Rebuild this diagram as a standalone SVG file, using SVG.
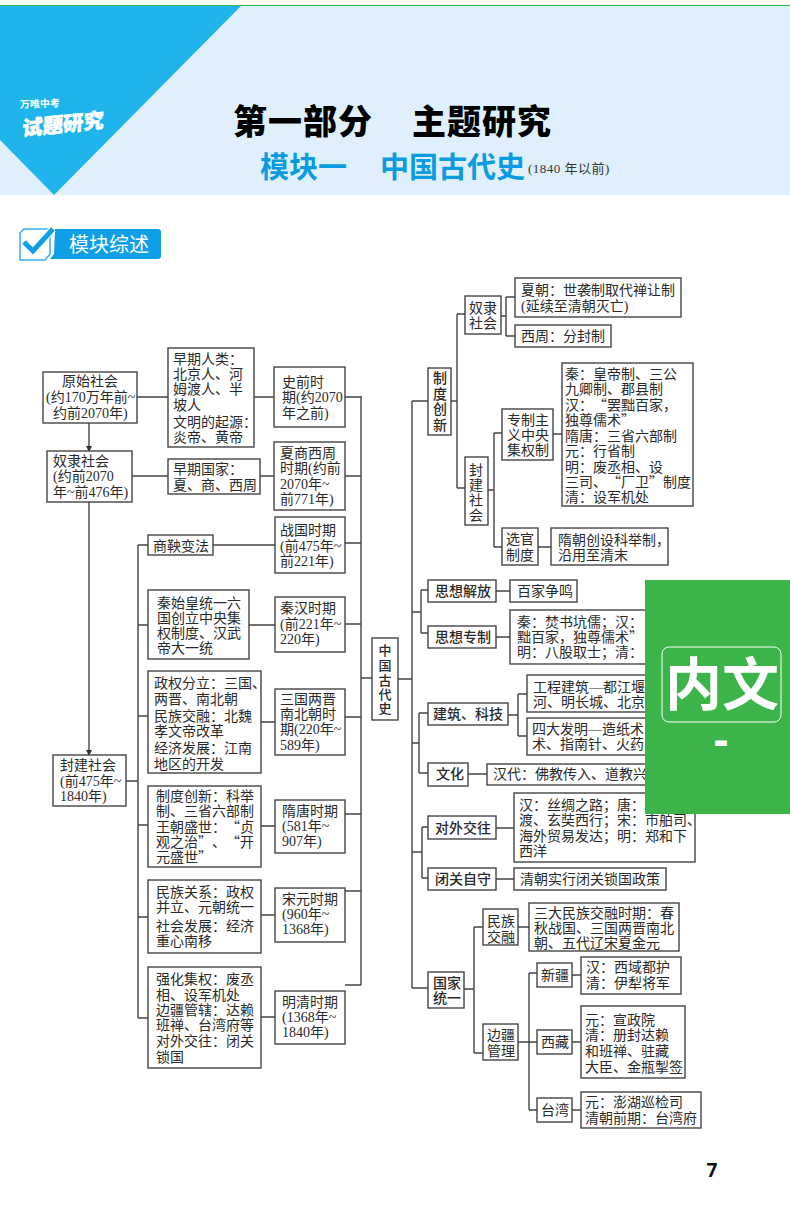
<svg xmlns="http://www.w3.org/2000/svg" width="790" height="1210" viewBox="0 0 790 1210" lang="zh-CN">
<style>
text{font-family:"Liberation Serif","Noto Sans CJK SC",serif;font-size:14px;fill:#2a2a2a;text-spacing-trim:space-all}
.q{font-family:"Noto Sans CJK SC","Liberation Serif",sans-serif}
.h{font-family:"Noto Sans CJK SC",sans-serif;font-weight:500}
.v{font-size:13px}
.b{fill:#fff;stroke:#444;stroke-width:1.4}
#connectors path{fill:none;stroke:#444;stroke-width:1.4}
.t{font-family:"Noto Sans CJK SC",sans-serif;font-weight:900;font-size:34px;fill:#000;letter-spacing:1px}
.s{font-family:"Noto Sans CJK SC",sans-serif;font-weight:700;font-size:29px;fill:#0a9be0}
</style>
<defs><marker id="arr" markerWidth="6" markerHeight="6" refX="5" refY="3" orient="auto" markerUnits="userSpaceOnUse"><path d="M0 0L6 3L0 6z" fill="#333"/></marker></defs>
<g id="header">
<rect x="0" y="5" width="790" height="190" fill="#dff0fc"/>
<rect x="0" y="5" width="790" height="1" fill="#3bb54a"/>
<path d="M0 6H241L54 195L0 140z" fill="#1fb5ec"/>
<text x="20" y="108" transform="rotate(-2 20 108)" style="font-family:'Noto Sans CJK SC',sans-serif;font-weight:700;font-size:10px;fill:#fff">万唯中考</text>
<text transform="translate(22 136) rotate(-6) skewX(-8)" style="font-family:'Noto Sans CJK SC',sans-serif;font-weight:900;font-size:20.5px;fill:#fff;stroke:#fff;stroke-width:.5">试题研究</text>
<text class="t" x="233" y="134">第一部分</text>
<text class="t" x="412" y="134">主题研究</text>
<text class="s" x="260" y="178">模块一</text>
<text class="s" x="380" y="178">中国古代史</text>
<text x="528" y="173" style="font-size:13px;letter-spacing:.5px;fill:#333">(1840 年以前)</text>
</g>
<g id="badge">
<path d="M24 229H50V254L45 260H20V233z" fill="#fff" stroke="#38aeea" stroke-width="1.5"/>
<path d="M55 229H158Q161 229 161 232V256Q161 259 158 259H50L54 254z" fill="#0e9fe6"/>
<path d="M24 242L33 251L53 229" fill="none" stroke="#fff" stroke-width="7.5"/>
<path d="M24 242L33 251L53 229" fill="none" stroke="#0e9fe6" stroke-width="5"/>
<text x="69" y="252" style="font-family:'Noto Sans CJK SC',sans-serif;font-size:20px;fill:#fff">模块综述</text>
</g>
<g id="connectors">
<path d="M137 397H168M254 397H274M345 397H361M361 396V985M345 476H361M345 543H361M345 624H361M345 717H361M345 814H361M345 891H361M345 985H361M361 678H372"/>
<path d="M89 423V451" marker-end="url(#arr)"/>
<path d="M89 502V755" marker-end="url(#arr)"/>
<path d="M132 476H168M260 476H274M126 781H138M138 545V1018M138 545H148M138 625H148M138 716H148M138 825H148M138 917H148M138 1018H148M213 545H275M249 625H275M261 722H275M261 826H275M261 915H275M261 1017H275"/>
<path d="M398 679H412M412 401V988M412 401H428M412 988H428M412 612H421M421 590V633M421 590H428M421 633H428M412 743H419M419 713V773M419 713H428M419 773H428M412 852H422M422 827V878M422 827H428M422 878H428"/>
<path d="M451 401H457M457 314V488M457 314H465M457 488H465M501 316H506M506 297V336M506 297H515M506 336H515M488 490H494M494 433V547M494 433H502M494 547H502M553 434H562M538 547H551"/>
<path d="M496 591H510M496 637H510M508 715H518M518 694V736M518 694H527M518 736H527M468 774H487M496 828H514M496 879H514"/>
<path d="M464 989H474M474 927V1053M474 927H483M474 1053H483M518 927H529M518 1042H537M529 973V1110M529 973H537M529 1110H537M572 975H581M572 1042H581M572 1110H581"/>
</g>
<g id="n1"><rect class="b" x="43" y="372" width="94" height="51"/><text><tspan x="62" y="386">原始社会</tspan><tspan x="46" y="402">(约170万年前~</tspan><tspan x="53" y="418">约前2070年)</tspan></text></g>
<g id="n2"><rect class="b" x="168" y="348" width="86" height="99"/><text><tspan x="173" y="364">早期人类：</tspan><tspan x="173" y="379">北京人、河</tspan><tspan x="173" y="394">姆渡人、半</tspan><tspan x="173" y="410">坡人</tspan><tspan x="173" y="427">文明的起源：</tspan><tspan x="173" y="442">炎帝、黄帝</tspan></text></g>
<g id="n3"><rect class="b" x="274" y="367" width="71" height="60"/><text><tspan x="282" y="387">史前时</tspan><tspan x="282" y="402">期(约2070</tspan><tspan x="282" y="418">年之前)</tspan></text></g>
<g id="n4"><rect class="b" x="47" y="451" width="85" height="51"/><text><tspan x="53" y="466">奴隶社会</tspan><tspan x="53" y="481">(约前2070</tspan><tspan x="53" y="497">年~前476年)</tspan></text></g>
<g id="n5"><rect class="b" x="168" y="459" width="92" height="35"/><text><tspan x="173" y="474">早期国家：</tspan><tspan x="173" y="490">夏、商、西周</tspan></text></g>
<g id="n6"><rect class="b" x="274" y="442" width="71" height="68"/><text><tspan x="280" y="458">夏商西周</tspan><tspan x="280" y="473">时期(约前</tspan><tspan x="280" y="489">2070年~</tspan><tspan x="280" y="504">前771年)</tspan></text></g>
<g id="n7"><rect class="b" x="275" y="517" width="70" height="56"/><text><tspan x="280" y="535">战国时期</tspan><tspan x="280" y="551">(前475年~</tspan><tspan x="280" y="566">前221年)</tspan></text></g>
<g id="n8"><rect class="b" x="148" y="535" width="65" height="20"/><text x="153" y="551">商鞅变法</text></g>
<g id="n9"><rect class="b" x="148" y="590" width="101" height="69"/><text><tspan x="157" y="608">秦始皇统一六</tspan><tspan x="157" y="623">国创立中央集</tspan><tspan x="157" y="638">权制度、汉武</tspan><tspan x="157" y="653">帝大一统</tspan></text></g>
<g id="n10"><rect class="b" x="275" y="597" width="70" height="55"/><text><tspan x="280" y="613">秦汉时期</tspan><tspan x="280" y="629">(前221年~</tspan><tspan x="280" y="644">220年)</tspan></text></g>
<g id="n11"><rect class="b" x="148" y="671" width="113" height="102"/><text><tspan x="154" y="688">政权分立：三国、</tspan><tspan x="154" y="704">两晋、南北朝</tspan><tspan x="154" y="721">民族交融：北魏</tspan><tspan x="154" y="736">孝文帝改革</tspan><tspan x="154" y="753">经济发展：江南</tspan><tspan x="154" y="769">地区的开发</tspan></text></g>
<g id="n12"><rect class="b" x="275" y="689" width="70" height="66"/><text><tspan x="280" y="704">三国两晋</tspan><tspan x="280" y="719">南北朝时</tspan><tspan x="280" y="734">期(220年~</tspan><tspan x="280" y="750">589年)</tspan></text></g>
<g id="n13"><rect class="b" x="53" y="755" width="73" height="51"/><text><tspan x="60" y="770">封建社会</tspan><tspan x="60" y="786">(前475年~</tspan><tspan x="60" y="801">1840年)</tspan></text></g>
<g id="n14"><rect class="b" x="148" y="786" width="113" height="81"/><text class="q"><tspan x="156" y="801">制度创新：科举</tspan><tspan x="156" y="816">制、三省六部制</tspan><tspan x="156" y="832">王朝盛世：“贞</tspan><tspan x="156" y="847">观之治”、“开</tspan><tspan x="156" y="862">元盛世”</tspan></text></g>
<g id="n15"><rect class="b" x="275" y="800" width="70" height="53"/><text><tspan x="282" y="816">隋唐时期</tspan><tspan x="282" y="831">(581年~</tspan><tspan x="282" y="846">907年)</tspan></text></g>
<g id="n16"><rect class="b" x="148" y="880" width="113" height="73"/><text><tspan x="156" y="897">民族关系：政权</tspan><tspan x="156" y="912">并立、元朝统一</tspan><tspan x="156" y="931">社会发展：经济</tspan><tspan x="156" y="946">重心南移</tspan></text></g>
<g id="n17"><rect class="b" x="275" y="888" width="70" height="54"/><text><tspan x="282" y="904">宋元时期</tspan><tspan x="282" y="919">(960年~</tspan><tspan x="282" y="934">1368年)</tspan></text></g>
<g id="n18"><rect class="b" x="148" y="967" width="113" height="101"/><text><tspan x="156" y="984">强化集权：废丞</tspan><tspan x="156" y="1000">相、设军机处</tspan><tspan x="156" y="1015">边疆管辖：达赖</tspan><tspan x="156" y="1030">班禅、台湾府等</tspan><tspan x="156" y="1046">对外交往：闭关</tspan><tspan x="156" y="1062">锁国</tspan></text></g>
<g id="n19"><rect class="b" x="275" y="991" width="70" height="53"/><text><tspan x="282" y="1007">明清时期</tspan><tspan x="282" y="1022">(1368年~</tspan><tspan x="282" y="1037">1840年)</tspan></text></g>
<g id="n20"><rect class="b" x="372" y="638" width="26" height="82"/><text class="h v"><tspan x="378.500" y="655">中</tspan><tspan x="378.500" y="670">国</tspan><tspan x="378.500" y="685">古</tspan><tspan x="378.500" y="699">代</tspan><tspan x="378.500" y="713">史</tspan></text></g>
<g id="n21"><rect class="b" x="428" y="368" width="23" height="67"/><text class="h"><tspan x="433" y="383">制</tspan><tspan x="433" y="399">度</tspan><tspan x="433" y="414">创</tspan><tspan x="433" y="430">新</tspan></text></g>
<g id="n22"><rect class="b" x="465" y="296" width="36" height="38"/><text><tspan x="469" y="313">奴隶</tspan><tspan x="469" y="328">社会</tspan></text></g>
<g id="n23"><rect class="b" x="515" y="278" width="166" height="39"/><text><tspan x="521" y="295">夏朝：世袭制取代禅让制</tspan><tspan x="521" y="311">(延续至清朝灭亡)</tspan></text></g>
<g id="n24"><rect class="b" x="515" y="325" width="96" height="22"/><text x="521" y="341">西周：分封制</text></g>
<g id="n25"><rect class="b" x="465" y="457" width="23" height="68"/><text><tspan x="469" y="475">封</tspan><tspan x="469" y="490">建</tspan><tspan x="469" y="505">社</tspan><tspan x="469" y="520">会</tspan></text></g>
<g id="n26"><rect class="b" x="502" y="409" width="51" height="51"/><text><tspan x="507" y="425">专制主</tspan><tspan x="507" y="440">义中央</tspan><tspan x="507" y="455">集权制</tspan></text></g>
<g id="n27"><rect class="b" x="562" y="363" width="131" height="143"/><text class="q"><tspan x="565" y="379">秦：皇帝制、三公</tspan><tspan x="565" y="394">九卿制、郡县制</tspan><tspan x="565" y="410">汉：“罢黜百家，</tspan><tspan x="565" y="425">独尊儒术”</tspan><tspan x="565" y="441">隋唐：三省六部制</tspan><tspan x="565" y="456">元：行省制</tspan><tspan x="565" y="472">明：废丞相、设</tspan><tspan x="565" y="487">三司、“厂卫”制度</tspan><tspan x="565" y="502">清：设军机处</tspan></text></g>
<g id="n28"><rect class="b" x="502" y="528" width="36" height="37"/><text><tspan x="506" y="544">选官</tspan><tspan x="506" y="560">制度</tspan></text></g>
<g id="n29"><rect class="b" x="551" y="528" width="117" height="37"/><text><tspan x="558" y="545">隋朝创设科举制，</tspan><tspan x="558" y="560">沿用至清末</tspan></text></g>
<g id="n30"><rect class="b" x="428" y="580" width="68" height="22"/><text class="h" x="435" y="596">思想解放</text></g>
<g id="n31"><rect class="b" x="510" y="580" width="67" height="22"/><text x="517" y="596">百家争鸣</text></g>
<g id="n32"><rect class="b" x="428" y="626" width="68" height="22"/><text class="h" x="435" y="642">思想专制</text></g>
<g id="n33"><rect class="b" x="510" y="610" width="150" height="54"/><text class="q"><tspan x="517" y="627">秦：焚书坑儒；汉：</tspan><tspan x="517" y="642">黜百家，独尊儒术”</tspan><tspan x="517" y="657">明：八股取士；清：</tspan></text></g>
<g id="n34"><rect class="b" x="428" y="703" width="80" height="22"/><text class="h" x="433" y="719">建筑、科技</text></g>
<g id="n35"><rect class="b" x="527" y="675" width="130" height="37"/><text><tspan x="533" y="692">工程建筑—都江堰</tspan><tspan x="533" y="707">河、明长城、北京</tspan></text></g>
<g id="n36"><rect class="b" x="527" y="718" width="130" height="37"/><text><tspan x="532" y="734">四大发明—造纸术</tspan><tspan x="532" y="749">术、指南针、火药</tspan></text></g>
<g id="n37"><rect class="b" x="428" y="763" width="40" height="23"/><text class="h" x="436" y="779">文化</text></g>
<g id="n38"><rect class="b" x="487" y="764" width="170" height="21"/><text x="493" y="779">汉代：佛教传入、道教兴</text></g>
<g id="n39"><rect class="b" x="428" y="816" width="68" height="23"/><text class="h" x="435" y="833">对外交往</text></g>
<g id="n40"><rect class="b" x="514" y="793" width="181" height="69"/><text><tspan x="519" y="810">汉：丝绸之路；唐：</tspan><tspan x="519" y="825">渡、玄奘西行；宋：市舶司、</tspan><tspan x="519" y="841">海外贸易发达；明：郑和下</tspan><tspan x="519" y="856">西洋</tspan></text></g>
<g id="n41"><rect class="b" x="428" y="868" width="68" height="22"/><text class="h" x="435" y="884">闭关自守</text></g>
<g id="n42"><rect class="b" x="514" y="868" width="152" height="22"/><text x="520" y="884">清朝实行闭关锁国政策</text></g>
<g id="n43"><rect class="b" x="428" y="972" width="36" height="36"/><text class="h"><tspan x="433" y="988">国家</tspan><tspan x="433" y="1003">统一</tspan></text></g>
<g id="n44"><rect class="b" x="483" y="909" width="35" height="36"/><text><tspan x="487" y="926">民族</tspan><tspan x="487" y="942">交融</tspan></text></g>
<g id="n45"><rect class="b" x="529" y="903" width="150" height="48"/><text><tspan x="534" y="918">三大民族交融时期：春</tspan><tspan x="534" y="933">秋战国、三国两晋南北</tspan><tspan x="534" y="948">朝、五代辽宋夏金元</tspan></text></g>
<g id="n46"><rect class="b" x="483" y="1024" width="35" height="36"/><text><tspan x="487" y="1040">边疆</tspan><tspan x="487" y="1056">管理</tspan></text></g>
<g id="n47"><rect class="b" x="537" y="963" width="35" height="24"/><text x="541" y="980">新疆</text></g>
<g id="n48"><rect class="b" x="581" y="957" width="100" height="37"/><text><tspan x="586" y="972">汉：西域都护</tspan><tspan x="586" y="988">清：伊犁将军</tspan></text></g>
<g id="n49"><rect class="b" x="537" y="1030" width="35" height="24"/><text x="541" y="1047">西藏</text></g>
<g id="n50"><rect class="b" x="581" y="1006" width="104" height="72"/><text><tspan x="585" y="1025">元：宣政院</tspan><tspan x="585" y="1040">清：册封达赖</tspan><tspan x="585" y="1056">和班禅、驻藏</tspan><tspan x="585" y="1072">大臣、金瓶掣签</tspan></text></g>
<g id="n51"><rect class="b" x="537" y="1098" width="35" height="24"/><text x="541" y="1115">台湾</text></g>
<g id="n52"><rect class="b" x="581" y="1092" width="120" height="36"/><text><tspan x="585" y="1107">元：澎湖巡检司</tspan><tspan x="585" y="1123">清朝前期：台湾府</tspan></text></g>
<g id="stamp">
<rect x="645" y="580" width="145" height="234" fill="#3bb54a"/>
<rect x="662" y="647" width="119" height="75" rx="7" fill="none" stroke="#fff" stroke-width="1"/>
<text x="722" y="705" text-anchor="middle" style="font-family:'Noto Sans CJK SC',sans-serif;font-weight:700;font-size:57px;fill:#fff">内文</text>
<text x="721" y="755" text-anchor="middle" style="font-family:'Noto Sans',sans-serif;font-weight:700;font-size:44px;fill:#fff">-</text>
</g>
<text x="712" y="1177" text-anchor="middle" style="font-family:'Noto Sans',sans-serif;font-weight:700;font-size:19px;fill:#111">7</text>
</svg>
